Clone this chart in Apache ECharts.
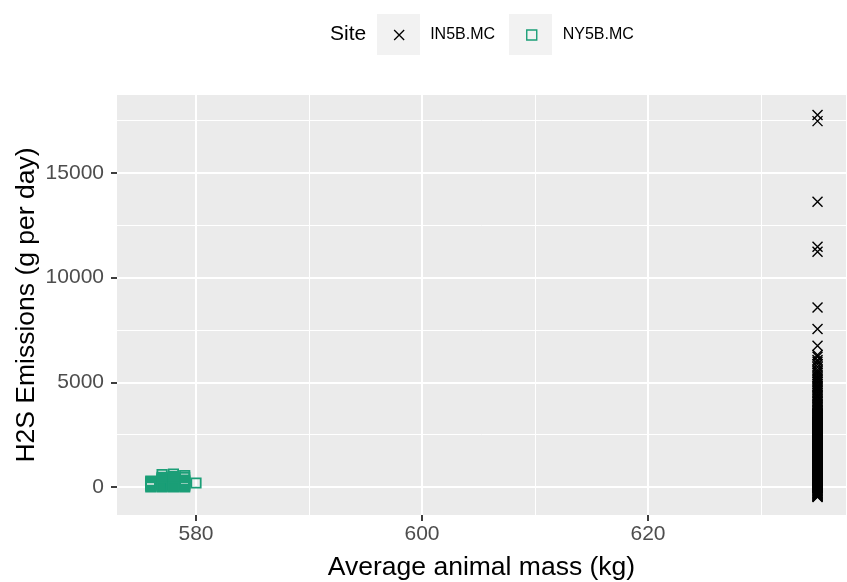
<!DOCTYPE html>
<html>
<head>
<meta charset="utf-8">
<script src="https://cdn.jsdelivr.net/npm/echarts@6/dist/echarts.min.js"></script>
<style>
html,body{margin:0;padding:0;background:#fff;}
#chart{width:847px;height:582px;}
</style>
</head>
<body>
<div id="chart"></div>
<script>
// ---- data ----
const siteNames = ['IN5B.MC', 'NY5B.MC'];

// IN5B.MC: all observations at the same average animal mass
const in5bMass = 635;
const in5bH2S = [
  -477, -458, -431, -405, -382, -352, -325, -301, -272, -246, -221, -193, -167, -141, -114, -88,
  -62, -37, -9, 17, 43, 68, 97, 121, 148, 174, 203, 229, 257, 284, 311, 338, 366, 391, 419, 446,
  473, 502, 527, 555, 582, 608, 637, 661, 689, 716, 744, 771, 797, 826, 851, 879, 906, 931, 961,
  986, 1013, 1041, 1067, 1096, 1121, 1149, 1176, 1203, 1228, 1256, 1284, 1311, 1337, 1366, 1392,
  1418, 1446, 1471, 1501, 1526, 1553, 1581, 1607, 1634, 1662, 1688, 1716, 1743, 1769, 1797, 1823,
  1851, 1877, 1906, 1931, 1958, 1986, 2013, 2039, 2067, 2094, 2121, 2147, 2176, 2202, 2228, 2257,
  2283, 2309, 2337, 2363, 2391, 2417, 2446, 2472, 2498, 2526, 2553, 2579, 2607, 2633, 2661, 2687,
  2714, 2742, 2768, 2796, 2823, 2849, 2877, 2904, 2931, 2957, 2986, 3012, 3038, 3066, 3093, 3119,
  3147, 3174, 3201, 3227, 3254, 3282, 3309, 3336, 3361, 3389, 3417, 3443, 3471, 3497, 3524,
  3562, 3608, 3653, 3702, 3761, 3818, 3872, 3934, 3991, 4058, 4112, 4183, 4259, 4331, 4392,
  4478, 4561, 4632, 4718, 4789, 4853, 4932, 5018, 5102, 5179, 5253, 5348, 5441, 5522, 5604,
  5731, 5862, 5984, 6065, 6222, 6300, 6750, 7545, 8580, 11237, 11476, 13626, 17478, 17765
];

// NY5B.MC: mass and H2S pairs
const ny5bMass = [
  576, 576, 576, 576, 576, 576, 576,
  577, 577, 577, 577, 577, 577, 577, 577, 577, 577, 577, 577,
  578, 578, 578, 578, 578, 578, 578, 578, 578, 578, 578, 578, 578,
  579, 579, 579, 579, 579, 579, 579, 579, 579, 579,
  580
];
const ny5bH2S = [
  287, 240, 191, 143, 96, 48, 0,
  590, 455, 408, 360, 312, 265, 217, 170, 122, 74, 26, 0,
  620, 500, 452, 405, 357, 310, 262, 215, 167, 120, 72, 24, 0,
  550, 455, 335, 287, 240, 191, 143, 96, 48, 0,
  190
];

const xMajorTicks = [580, 600, 620];
const xMinorTicks = [590, 610, 630];
const yMajorTicks = [0, 5000, 10000, 15000];
const yMinorTicks = [2500, 7500, 12500, 17500];

const xRange = [573.009, 637.52];
const yRange = [-1338, 18726];

const xTitle = 'Average animal mass (kg)';
const yTitle = 'H2S Emissions (g per day)';
const legendTitle = 'Site';

// ---- chart ----
const FONT = '"Liberation Sans", Arial, sans-serif';
const GREEN = '#1b9e77';
const CROSS = 'path://M0,0L10,10M0,10L10,0';

const in5bData = in5bH2S.map(v => [in5bMass, v]);
const ny5bData = ny5bMass.map((m, i) => [m, ny5bH2S[i]]);

const chart = echarts.init(document.getElementById('chart'), null, {renderer: 'canvas'});

function xAxisBase(ticks, major) {
  return {
    type: 'value',
    min: xRange[0], max: xRange[1],
    position: 'bottom',
    axisLine: {show: false, onZero: false},
    axisTick: {show: major, customValues: ticks, length: 6, lineStyle: {color: '#333333', width: 1.9}},
    axisLabel: {show: major, customValues: ticks, margin: 9, color: '#4d4d4d', fontSize: 21, fontFamily: FONT,
      formatter: v => String(v)},
    splitLine: {show: true, lineStyle: {color: '#ffffff', width: major ? 2 : 1}},
    name: major ? xTitle : '',
    nameLocation: 'middle',
    nameGap: 39,
    nameMoveOverlap: false,
    nameTextStyle: {color: '#000', fontSize: 26.5, fontFamily: FONT}
  };
}
function yAxisBase(ticks, major) {
  return {
    type: 'value',
    min: yRange[0], max: yRange[1],
    position: 'left',
    axisLine: {show: false, onZero: false},
    axisTick: {show: major, customValues: ticks, length: 6, lineStyle: {color: '#333333', width: 1.9}},
    axisLabel: {show: major, customValues: ticks, margin: 13, color: '#4d4d4d', fontSize: 21, fontFamily: FONT,
      formatter: v => String(v)},
    splitLine: {show: true, lineStyle: {color: '#ffffff', width: major ? 2 : 1}},
    name: major ? yTitle : '',
    nameLocation: 'middle',
    nameRotate: 90,
    nameGap: 77,
    nameMoveOverlap: false,
    nameTextStyle: {color: '#000', fontSize: 26.5, fontFamily: FONT}
  };
}

const option = {
  animation: false,
  backgroundColor: '#ffffff',
  grid: {
    left: 117, right: 1, top: 95, bottom: 67,
    show: true, backgroundColor: '#ebebeb', borderWidth: 0,
    containLabel: false,
    outerBoundsMode: 'none'
  },
  xAxis: [xAxisBase(xMajorTicks, true), xAxisBase(xMinorTicks, false)],
  yAxis: [yAxisBase(yMajorTicks, true), yAxisBase(yMinorTicks, false)],
  graphic: [
    {type: 'rect', left: 377, top: 14, shape: {width: 43, height: 41}, style: {fill: '#f2f2f2'}, z: -1, silent: true},
    {type: 'rect', left: 509, top: 14, shape: {width: 43, height: 41}, style: {fill: '#f2f2f2'}, z: -1, silent: true},
    {type: 'text', left: 330, top: 24, style: {text: legendTitle, fill: '#000', font: '21px ' + FONT}, silent: true}
  ],
  legend: {
    left: 393.5, top: 27,
    padding: 0,
    orient: 'horizontal',
    itemWidth: 10, itemHeight: 10,
    itemGap: 31,
    selectedMode: false,
    textStyle: {color: '#000', fontSize: 16, fontFamily: FONT, padding: [0, 0, 0, 21]},
    data: [
      {name: siteNames[0], icon: CROSS, itemStyle: {color: 'rgba(0,0,0,0)', borderColor: '#000', borderWidth: 1.3}},
      {name: siteNames[1], icon: 'rect', itemStyle: {color: 'rgba(0,0,0,0)', borderColor: GREEN, borderWidth: 1.4}}
    ]
  },
  series: [
    {
      name: siteNames[0], type: 'scatter', xAxisIndex: 0, yAxisIndex: 0,
      symbol: CROSS, symbolSize: 10,
      itemStyle: {color: 'rgba(0,0,0,0)', borderColor: '#000', borderWidth: 1.4, opacity: 1},
      emphasis: {disabled: true},
      data: in5bData
    },
    {
      name: siteNames[1], type: 'scatter', xAxisIndex: 0, yAxisIndex: 0,
      symbol: 'rect', symbolSize: 9.4,
      itemStyle: {color: 'rgba(0,0,0,0)', borderColor: GREEN, borderWidth: 1.8, opacity: 1},
      emphasis: {disabled: true},
      data: ny5bData
    }
  ]
};
chart.setOption(option);
</script>
</body>
</html>
